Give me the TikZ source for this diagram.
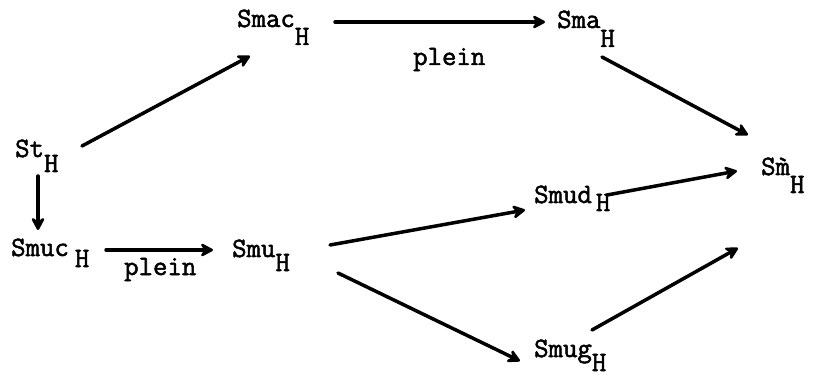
\documentclass[tikz,border=0pt]{standalone}
\usepackage{fontspec}
\newfontfamily\tw{Latin Modern Mono}[FakeBold=1.8]
\usetikzlibrary{arrows.meta,calc}
\newcommand{\Hsub}[2]{\hspace{#1pt}\raisebox{-#2pt}{H}}
\begin{document}
\begin{tikzpicture}[x=1pt,y=-1pt,
  lbl/.style={anchor=base west,inner sep=0pt,font=\tw\fontsize{28}{32}\selectfont},
  arr/.style={line width=3.5pt,line cap=round,-{Stealth[length=16pt,width=17pt,inset=6pt,round]}}]
\useasboundingbox (0,0) rectangle (813,379);
\node[lbl] (st)   at (15,157)  {St\Hsub{0}{15}};
\node[lbl] (smuc) at (11,256)  {Smuc\Hsub{6}{11}};
\node[lbl] (smu)  at (232,257) {Smu\Hsub{0}{14}};
\node[lbl] (smac) at (237,27)  {Smac\Hsub{0}{18}};
\node[lbl] (sma)  at (557,28)  {Sma\Hsub{0}{19}};
\node[lbl] (sm)   at (761,175) {S\`{m}\Hsub{0}{18}};
\node[lbl] (smud) at (534,203) {Smud\Hsub{4}{8}};
\node[lbl] (smug) at (534,357) {Smug\Hsub{0}{14}};
\node[lbl] (p1)   at (413,65)  {plein};
\node[lbl] (p2)   at (124,275) {plein};
\draw[arr] ($(st.base west)+(67,-11)$) -- ($(smac.base west)+(13,29)$);
\draw[arr] ($(smac.base west)+(98,-5)$) -- ($(sma.base west)+(-12,-6)$);
\draw[arr] ($(sma.base west)+(45,29)$) -- ($(sm.base west)+(-13,-40)$);
\draw[arr] ($(smud.base west)+(73,-8)$) -- ($(sm.base west)+(-24,-4)$);
\draw[arr] ($(st.base west)+(23,19)$) -- ($(smuc.base west)+(27,-26)$);
\draw[arr] ($(smuc.base west)+(95,-6)$) -- ($(smu.base west)+(-19,-7)$);
\draw[arr] ($(smu.base west)+(98,-12)$) -- ($(smud.base west)+(-9,7)$);
\draw[arr] ($(smu.base west)+(106,16)$) -- ($(smug.base west)+(-14,4)$);
\draw[arr] ($(smug.base west)+(58,-27)$) -- ($(sm.base west)+(-23,73)$);
\end{tikzpicture}
\end{document}
